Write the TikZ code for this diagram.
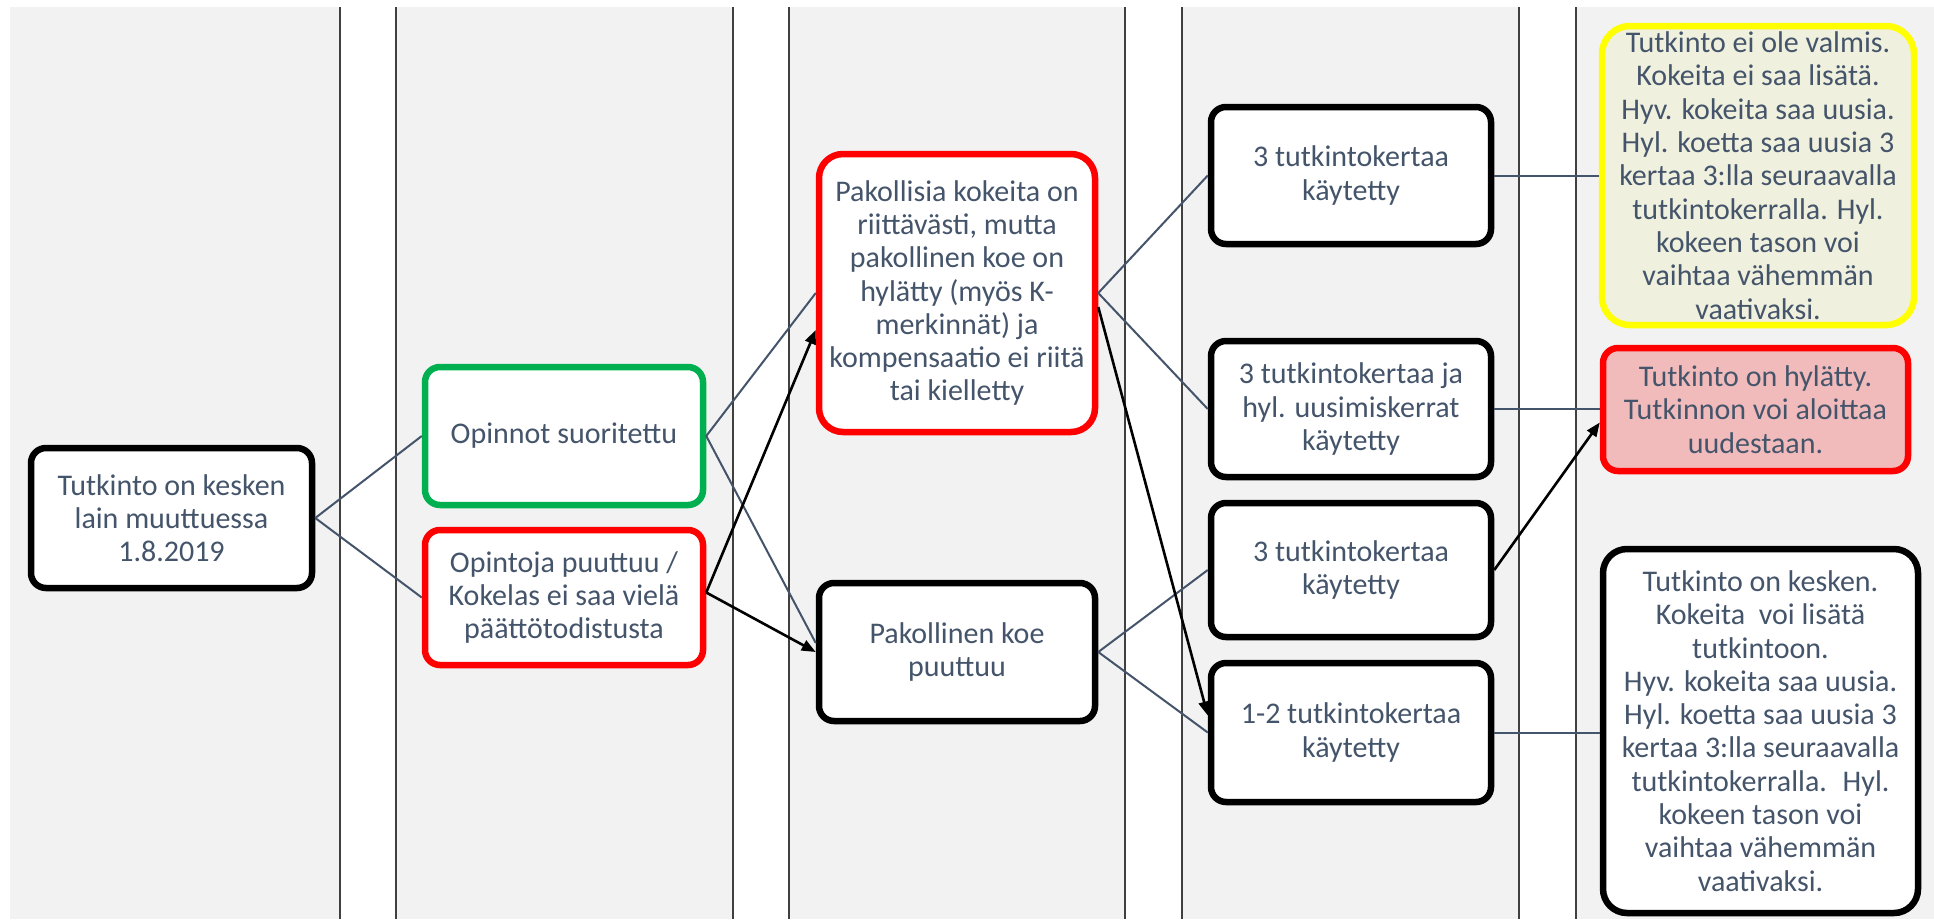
\documentclass[tikz,border=0pt]{standalone}
\usepackage{fontspec}
\setmainfont{Carlito}
\usetikzlibrary{arrows.meta}
\definecolor{bggray}{RGB}{242,242,242}
\definecolor{stripeline}{RGB}{64,64,64}
\definecolor{txt}{RGB}{68,84,106}
\definecolor{conn}{RGB}{68,84,106}
\definecolor{okgreen}{RGB}{0,176,80}
\definecolor{badred}{RGB}{255,0,0}
\definecolor{warnyellow}{RGB}{255,255,0}
\definecolor{yellowfill}{RGB}{240,240,222}
\definecolor{pinkfill}{RGB}{241,187,187}
\tikzset{
  box/.style={rounded corners=15pt, line width=6.5pt, fill=white, align=center,
    inner sep=0pt, font=\fontsize{30}{33.3}\selectfont, text=txt},
  bigbox/.style={box, rounded corners=24pt},
  vline/.style={draw=stripeline, line width=2pt},
  link/.style={draw=conn, line width=2pt},
  arr/.style={draw=black, line width=2.6pt, -{Triangle[length=14pt,width=11pt]}}
}
\begin{document}
\begin{tikzpicture}[x=1pt,y=-1pt]
\useasboundingbox (0,0) rectangle (1934,919);
\fill[white] (0,0) rectangle (1934,919);
\fill[bggray] (10,7) rectangle (1934,919);
% white stripes with border lines
\foreach \a/\b in {340/396, 733/789, 1125/1182, 1519/1576}{
  \fill[white] (\a,7) rectangle (\b,919);
  \draw[vline] (\a,7) -- (\a,919);
  \draw[vline] (\b,7) -- (\b,919);
}
% nodes
\node[box, draw=black, minimum width=281pt, minimum height=140pt] (A) at (171.5,518)
  {Tutkinto on kesken\\lain muuttuessa\\1.8.2019};
\node[box, draw=okgreen, minimum width=278pt, minimum height=138pt] (B) at (564,436)
  {Opinnot suoritettu};
\node[box, draw=badred, minimum width=278pt, minimum height=135pt] (C) at (564,597.5)
  {Opintoja puuttuu /\\Kokelas ei saa vielä\\päättötodistusta};
\node[bigbox, draw=badred, minimum width=276pt, minimum height=278pt] (D) at (957,293)
  {Pakollisia kokeita on\\riittävästi, mutta\\pakollinen koe on\\hylätty (myös K-\\merkinnät) ja\\kompensaatio ei riitä\\tai kielletty};
\node[box, draw=black, minimum width=276pt, minimum height=138pt] (E) at (957,652)
  {Pakollinen koe\\puuttuu};
\node[box, draw=black, minimum width=280pt, minimum height=137pt] (F) at (1351,175.5)
  {3 tutkintokertaa\\käytetty};
\node[box, draw=black, minimum width=280pt, minimum height=136pt] (G) at (1351,409)
  {3 tutkintokertaa ja\\hyl. uusimiskerrat\\käytetty};
\node[box, draw=black, minimum width=280pt, minimum height=134pt] (H) at (1351,570)
  {3 tutkintokertaa\\käytetty};
\node[box, draw=black, minimum width=280pt, minimum height=139pt] (I) at (1351,732.5)
  {1-2 tutkintokertaa\\käytetty};
\node[bigbox, rounded corners=28pt, draw=warnyellow, fill=yellowfill, minimum width=312pt, minimum height=299pt] (J) at (1758,175.5)
  {Tutkinto ei ole valmis.\\Kokeita ei saa lisätä.\\Hyv. kokeita saa uusia.\\Hyl. koetta saa uusia 3\\kertaa 3:lla seuraavalla\\tutkintokerralla. Hyl.\\kokeen tason voi\\vaihtaa vähemmän\\vaativaksi.};
\node[box, draw=badred, fill=pinkfill, minimum width=305pt, minimum height=123pt] (K) at (1755.5,409.5)
  {Tutkinto on hylätty.\\Tutkinnon voi aloittaa\\uudestaan.};
\node[bigbox, draw=black, minimum width=315pt, minimum height=364pt] (L) at (1760.5,731)
  {Tutkinto on kesken.\\Kokeita~ voi lisätä\\tutkintoon.\\Hyv. kokeita saa uusia.\\Hyl. koetta saa uusia 3\\kertaa 3:lla seuraavalla\\tutkintokerralla.~ Hyl.\\kokeen tason voi\\vaihtaa vähemmän\\vaativaksi.};
% plain connectors
\draw[link] (A.east) -- (B.west);
\draw[link] (A.east) -- (C.west);
\draw[link] (B.east) -- (D.west);
\draw[link] (B.east) -- ([yshift=9pt]E.west);
\draw[link] (D.east) -- (F.west);
\draw[link] (D.east) -- (G.west);
\draw[link] (E.east) -- (H.west);
\draw[link] (E.east) -- (I.west);
\draw[link] (F.east) -- (F.east -| J.west);
\draw[link] (G.east) -- (G.east -| K.west);
\draw[link] (I.east) -- (I.east -| L.west);
% arrows
\draw[arr] ([yshift=5pt]C.east) -- ([yshift=-37pt]D.west);
\draw[arr] ([yshift=5pt]C.east) -- (E.west);
\draw[arr] ([yshift=-14pt]D.east) -- ([yshift=17pt]I.west);
\draw[arr] (H.east) -- ([yshift=-13pt]K.west);
\end{tikzpicture}
\end{document}
